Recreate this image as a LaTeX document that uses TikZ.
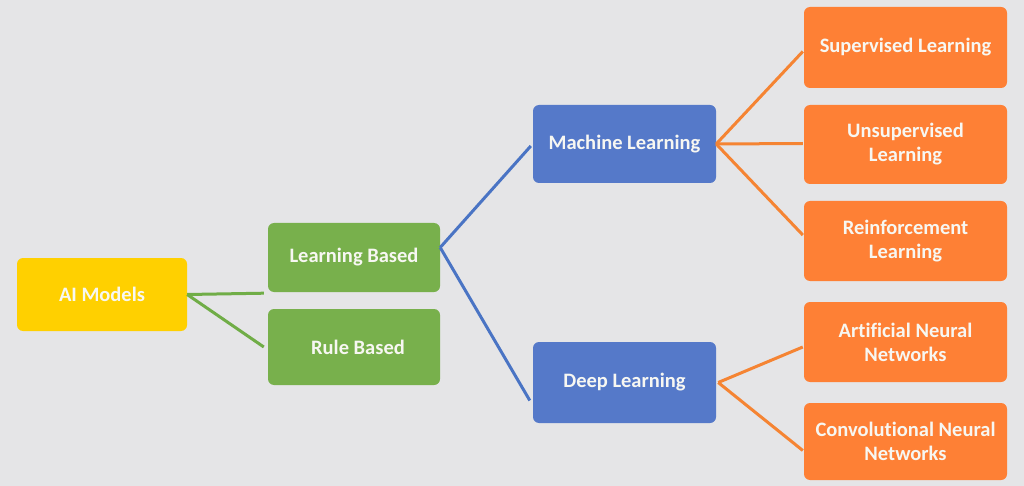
\documentclass[tikz,border=0pt]{standalone}
\usepackage{fontspec}
\setmainfont{Carlito}[Ligatures={NoCommon}]
\definecolor{bgc}{HTML}{E5E5E7}
\definecolor{yel}{HTML}{FFD000}
\definecolor{grn}{HTML}{78B04C}
\definecolor{grnl}{HTML}{70AD47}
\definecolor{blu}{HTML}{5579C9}
\definecolor{blul}{HTML}{4A74C4}
\definecolor{org}{HTML}{FE8035}
\definecolor{orgl}{HTML}{F58433}
\definecolor{txt}{HTML}{F7F7F2}
\tikzset{
  box/.style={rectangle, rounded corners=6pt, inner sep=0pt, align=center,
    text=txt, font=\fontsize{20.5}{24}\selectfont\bfseries},
  yelbox/.style={box, fill=yel},
  grnbox/.style={box, fill=grn},
  blubox/.style={box, fill=blu},
  orgbox/.style={box, fill=org},
  gline/.style={draw=grnl, line width=3pt},
  bline/.style={draw=blul, line width=3pt},
  oline/.style={draw=orgl, line width=3pt},
}
\begin{document}
\begin{tikzpicture}[x=1pt,y=-1pt]
\fill[bgc] (0,0) rectangle (1024,486);
\useasboundingbox (0,0) rectangle (1024,486);

\node[yelbox, minimum width=170pt, minimum height=73pt] (ai) at (102,294.5) {AI Models};
\node[grnbox, minimum width=172pt, minimum height=69pt] (lb) at (354,257.5) {Learning Based};
\node[grnbox, minimum width=172pt, minimum height=76pt] (rb) at (354,347) {\hspace*{8pt}Rule Based};
\node[blubox, minimum width=183pt, minimum height=78pt] (ml) at (624.5,144) {Machine Learning};
\node[blubox, minimum width=183pt, minimum height=81pt] (dl) at (624.5,382.5) {\raisebox{-3pt}{Deep Learning}};
\node[orgbox, minimum width=203pt, minimum height=81pt] (sup) at (905.5,47.5) {\raisebox{3pt}{Supervised Learning}};
\node[orgbox, minimum width=203pt, minimum height=79pt] (uns) at (905.5,144.5) {Unsupervised\\Learning};
\node[orgbox, minimum width=203pt, minimum height=80pt] (rei) at (905.5,241) {Reinforcement\\Learning};
\node[orgbox, minimum width=203pt, minimum height=80pt] (ann) at (905.5,342) {Artificial Neural\\Networks};
\node[orgbox, minimum width=203pt, minimum height=77pt] (cnn) at (905.5,441.5) {Convolutional Neural\\Networks};

\draw[gline] (ai.east) -- ([xshift=-4pt,yshift=-1pt]lb.south west);
\draw[gline] (ai.east) -- ([xshift=-4pt]rb.west);
\draw[bline] ([yshift=10pt]lb.east) -- ([xshift=-2pt,yshift=-2pt]ml.west);
\draw[bline] ([yshift=10pt]lb.east) -- ([xshift=-3pt,yshift=-18pt]dl.west);
\draw[oline] (ml.east) -- ([xshift=-1pt,yshift=-4pt]sup.west);
\draw[oline] (ml.east) -- ([xshift=-1pt,yshift=1pt]uns.west);
\draw[oline] (ml.east) -- ([xshift=-1pt,yshift=6pt]rei.west);
\draw[oline] ([xshift=2pt]dl.east) -- ([xshift=-1pt,yshift=-5pt]ann.west);
\draw[oline] ([xshift=2pt]dl.east) -- ([xshift=-1pt,yshift=-9pt]cnn.west);
\end{tikzpicture}
\end{document}
